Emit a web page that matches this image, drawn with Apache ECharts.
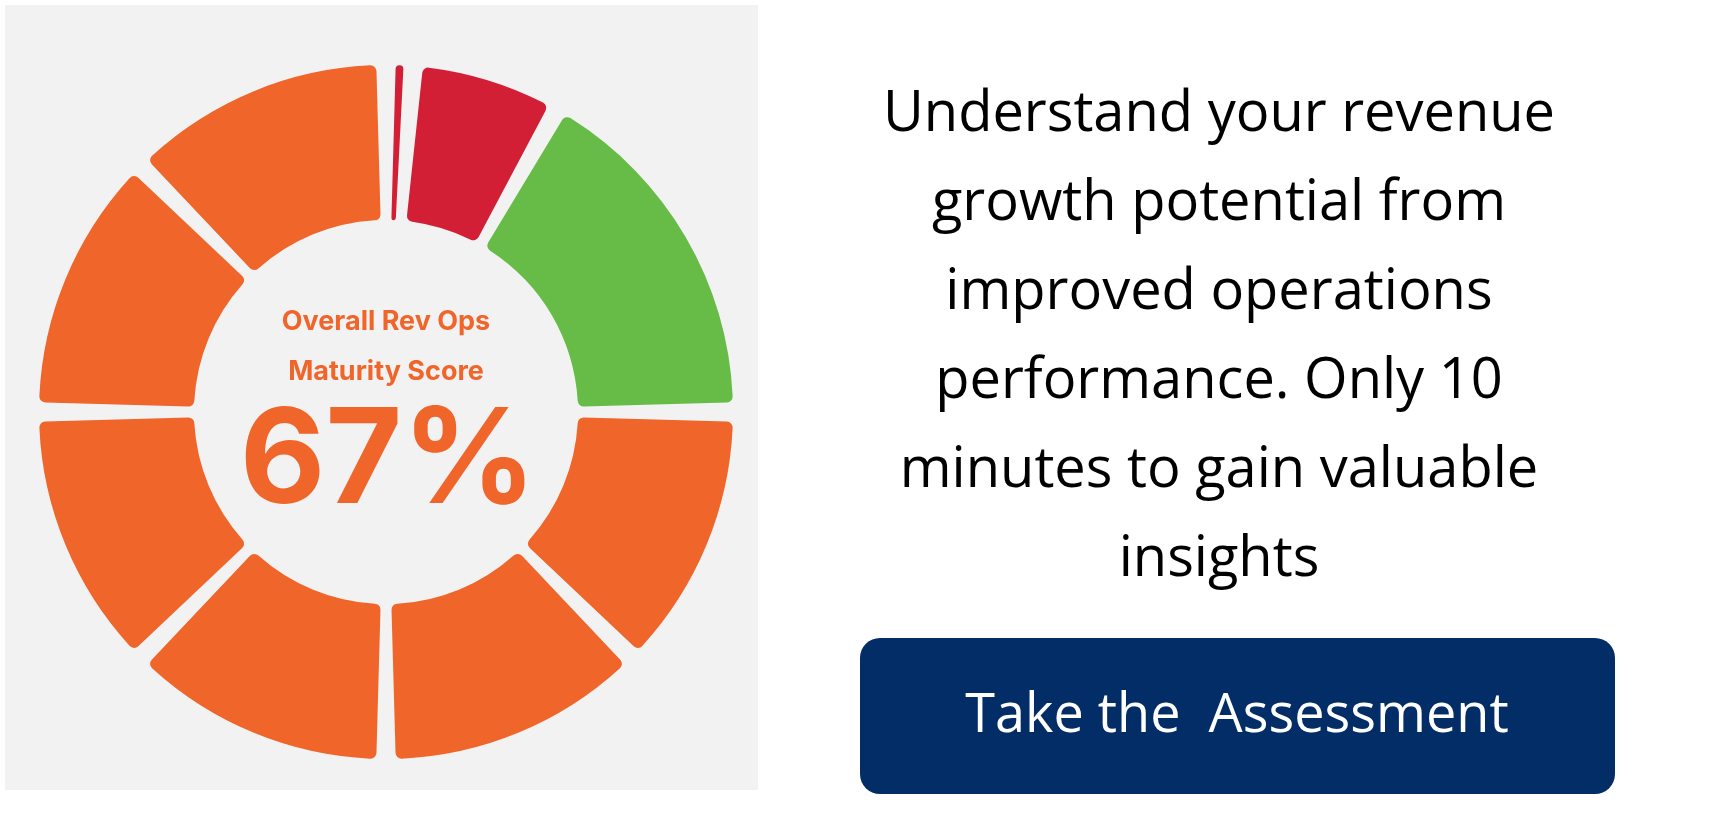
<!DOCTYPE html>
<html><head><meta charset="utf-8">
<script src="https://cdn.jsdelivr.net/npm/echarts@6/dist/echarts.min.js"></script>
<style>html,body{margin:0;padding:0;background:#fff}#c{width:1709px;height:834px}</style>
</head><body><div id="c"></div>
<script>
const segmentNames = ['s0','s1','s2','s3','s4','s5','s6','s7','s8'];
const segmentValues = [4.5, 25, 60.5, 45, 45, 45, 45, 45, 45];
const segmentColors = ['#D21F35','#D21F35','#67BC47','#F0652A','#F0652A','#F0652A','#F0652A','#F0652A','#F0652A'];
const scoreLabel = ['Overall Rev Ops', 'Maturity Score'];
const scoreValue = '67%';
const promoLines = ['Understand your revenue','growth potential from','improved operations','performance. Only 10','minutes to gain valuable','insights'];
const buttonText = 'Take the  Assessment';

const chart = echarts.init(document.getElementById('c'));
const graphics = [
  {type:'rect', z:-10, shape:{x:5,y:5,width:753,height:785}, style:{fill:'#F2F2F2'}},
  {type:'text', z:10, style:{text:scoreLabel[0], x:386, y:322, align:'center', verticalAlign:'middle', font:'bold 27px Inter', fill:'#F0652A'}},
  {type:'text', z:10, style:{text:scoreLabel[1], x:386, y:372, align:'center', verticalAlign:'middle', font:'bold 27px Inter', fill:'#F0652A'}},
  {type:'text', z:10, style:{text:scoreValue, x:388, y:463, align:'center', verticalAlign:'middle', font:'bold 132px Inter', fill:'#F0652A'}},
  {type:'rect', shape:{x:860,y:638,width:755,height:156,r:20}, style:{fill:'#032D66'}},
  {type:'text', style:{text:buttonText, x:1237, y:717, align:'center', verticalAlign:'middle', font:'54px "Open Sans"', fill:'#fff'}}
];
promoLines.forEach((t,i)=>graphics.push({type:'text', style:{text:t, x:1219, y:115+i*89, align:'center', verticalAlign:'middle', font:'56px "Open Sans"', fill:'#000'}}));

chart.setOption({
  animation:false,
  backgroundColor:'#fff',
  graphic: graphics,
  series:[{
    type:'pie', center:[386,412], radius:[192,347], startAngle:90, clockwise:true,
    padAngle:3.2, minAngle:0, avoidLabelOverlap:false,
    itemStyle:{borderRadius:6},
    label:{show:false}, labelLine:{show:false}, emphasis:{disabled:true},
    data: segmentValues.map((v,i)=>({name:segmentNames[i], value:v, itemStyle:{color:segmentColors[i]}}))
  }]
});
</script></body></html>
